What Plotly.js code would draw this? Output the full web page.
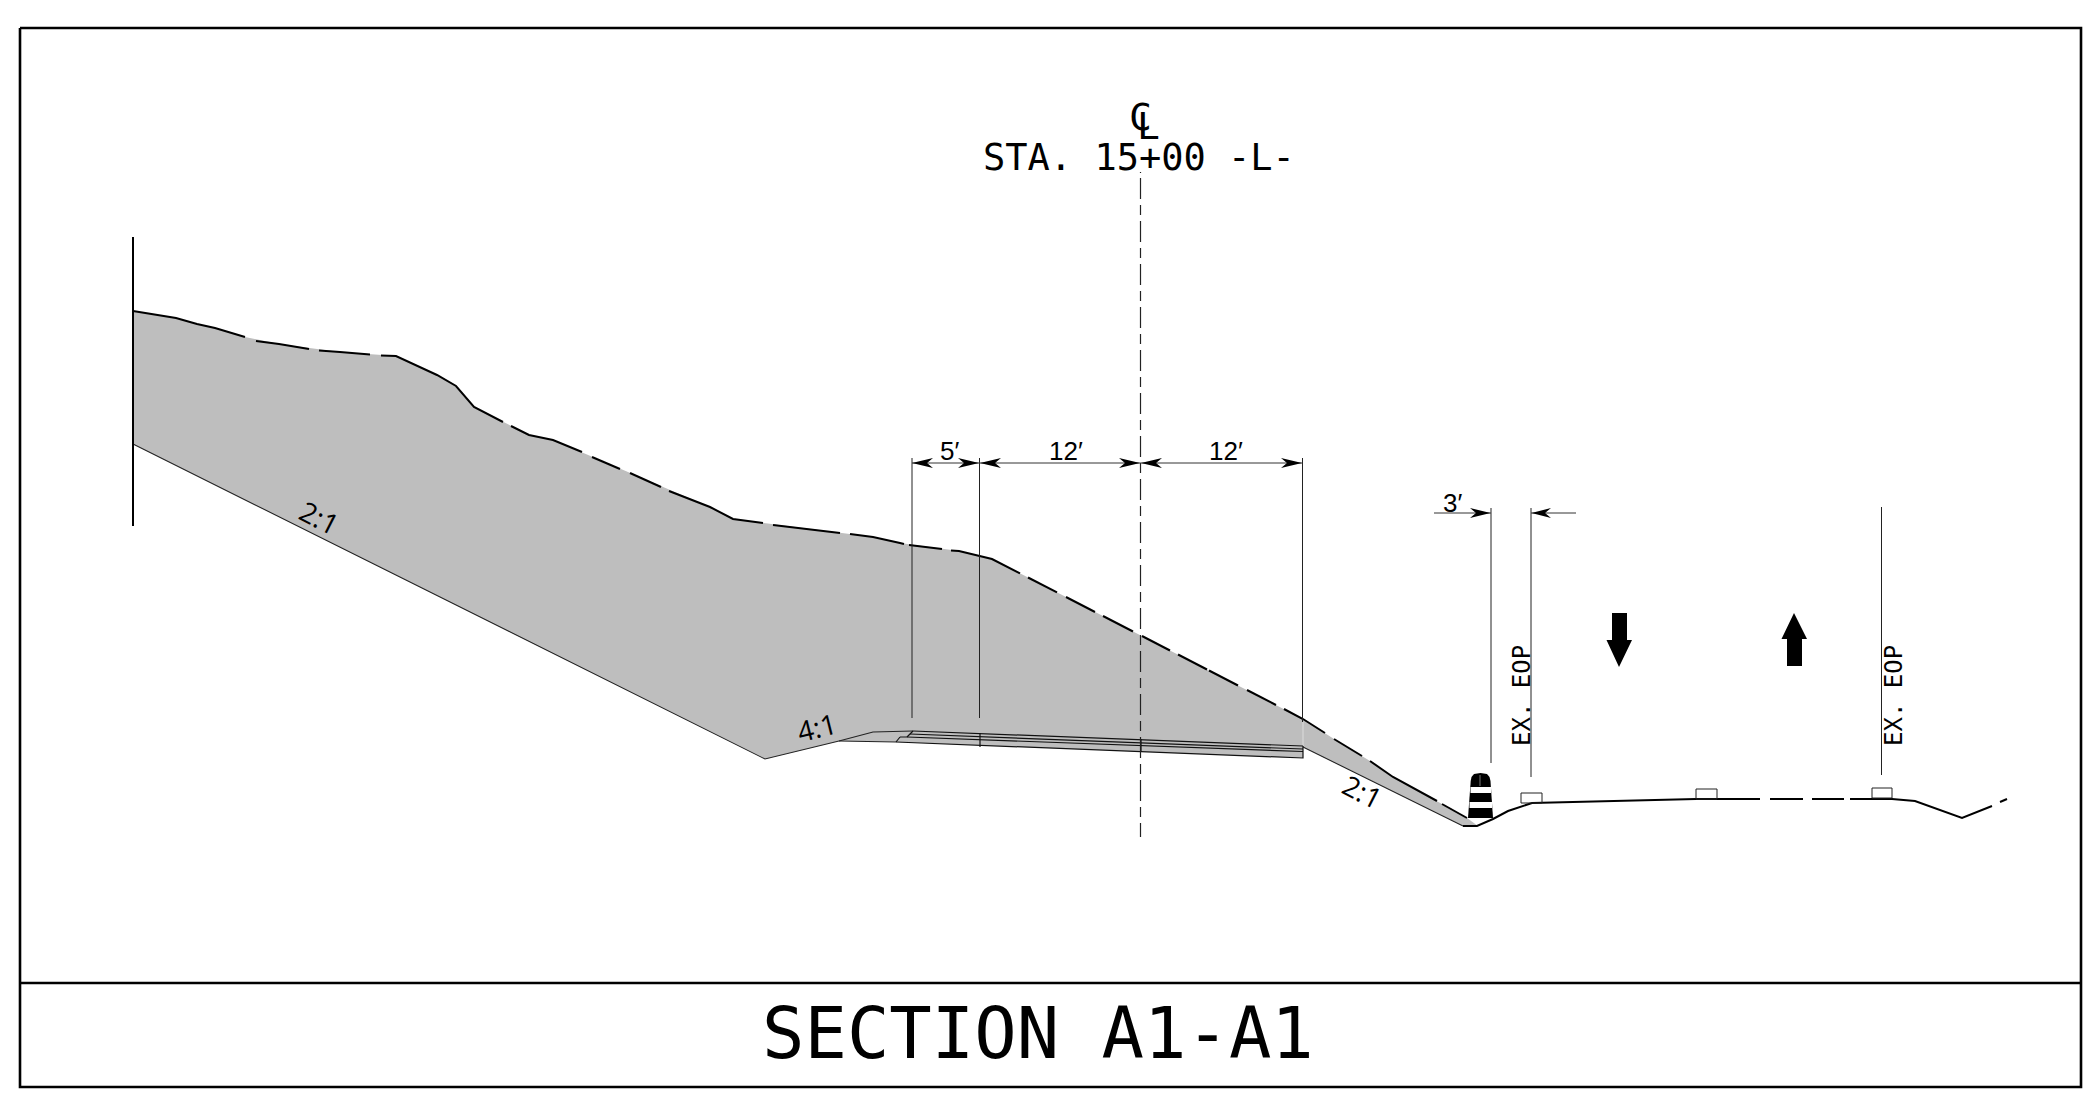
<!DOCTYPE html>
<html>
<head>
<meta charset="utf-8">
<script src="https://cdn.plot.ly/plotly-3.0.1.min.js"></script>
<style>html,body{margin:0;padding:0;background:#fff}#plot{width:2089px;height:1099px}</style>
</head>
<body>
<div id="plot"></div>
<script>
// Sheet extents (drawing units)
const sheetX = [0, 2089];
const sheetY = [1099, 0];

// Cut / fill area
const fillX = [133,176,197,215,245,279,340,396,437,456,474,529,553,710,733,873,900,959,992,1303,1334,1370,1393,1442,1467,1478,1463,1303,1303,896,839,765,133];
const fillY = [311,318,324,328,337,344,352,356,375,386,407,435,440,507,519,537,543,551,559,719,739,761,777,804,818,826,826,747,758,742,741,759,444];

// Existing ground line, broken where the drawing breaks it
const groundX = [133,176,197,215,245,null,256,279,309,null,319,340,370,null,381,396,437,456,474,503,null,511,529,553,582,null,592,620,null,630,661,null,669,710,733,763,null,773,840,null,850,873,900,904,null,909,942,null,951,959,992,1020,null,1028,1057,null,1066,1095,null,1103,1133,null,1142,1170,null,1178,1207,null,1209,1238,null,1247,1276,null,1284,1303,1325,null,1334,1362,null,1370,1393,1437,null,1442,1467];
const groundY = [311,318,324,328,337,null,341,344,349,null,350.5,352,354.5,null,355.5,356,375,386,407,422,null,426,435,440,452,null,457,469,null,473,487,null,491,507,519,523,null,525,533,null,534,537,543,544,null,545,549,null,550.5,551,559,573.4,null,577.5,592.4,null,597,612,null,616,631.5,null,636,650.5,null,654.5,669.5,null,670.5,685.5,null,690,705,null,709,719,733,null,739,756,null,761,777,801,null,804,818];

// Roadway surface on the right
const roadX = [1463,1477,1493,1508,1532,1696,1760,null,1770,1803,null,1812,1844,null,1850,1892,1915,1962,1992,null,2000,2007];
const roadY = [826,826,819,811,803,799,799,null,799,799,null,799,799,null,799,799,801,818,806,null,802,799];

// Thin slope lines
const slopeX = [133,765,839,873,913,null,839,896,null,1303,1463];
const slopeY = [444,759,741,732,731,null,741,742,null,747,826];

// Pavement layers
const paveX = [913,1303,null,910,1303,null,900,907,1303,null,896,1303,1303,null,913,907,null,900,896,null,980,980,null,1141,1141];
const paveY = [731,746,null,734,749,null,737,737,751.5,null,742,758,746,null,731,737,null,737,742,null,733,747,null,739,752];

// Pale edge of the fill at the pavement end
const edgeX = [1303,1303];
const edgeY = [722,746];

// Left limit line
const limitX = [133,133];
const limitY = [237,526];

// Centre line
const centerX = [1140.5,1140.5];
const centerY = [178,837];
const centerDotX = [1140.5,1140.5];
const centerDotY = [172,173];

// Extension and dimension lines
const extX = [912,912,null,979.5,979.5,null,1302.5,1302.5,null,1491,1491,null,1531,1531,null,1881.5,1881.5];
const extY = [458,718,null,458,718,null,458,722,null,508,763,null,508,777,null,507,775];
const dimX = [912,1302.5,null,1434,1491,null,1531,1576];
const dimY = [463,463,null,513,513,null,513,513];

// Dimension arrowheads
const headX = [912,933,927,933,912,null,979,958,964,958,979,null,980,1001,995,1001,980,null,1140,1119,1125,1119,1140,null,1141,1162,1156,1162,1141,null,1302,1281,1287,1281,1302,null,1490.5,1470,1476,1470,1490.5,null,1531.5,1551,1545,1551,1531.5];
const headY = [463,458,463,468,463,null,463,458,463,468,463,null,463,458,463,468,463,null,463,458,463,468,463,null,463,458,463,468,463,null,463,458,463,468,463,null,513,508,513,518,513,null,513,508,513,518,513];

// Traffic direction arrows
const trafficX = [1612,1627,1627,1632,1619,1606.5,1612,1612,null,1794,1807,1802,1802,1787,1787,1781.5,1794];
const trafficY = [613,613,640,640,667,640,640,613,null,613,639,639,666,666,639,639,613];

// Small survey boxes
const boxX = [1521,1542,1542,1521,1521,null,1696,1717,1717,1696,1696,null,1872,1892,1892,1872,1872];
const boxY = [793,793,803,803,793,null,789,789,799,799,789,null,788,788,798,798,788];

// Drum
const drumX = [1468,1470.7,1471.5,1474,1480.5,1487,1489.5,1490.5,1493,1468];
const drumY = [818,781,777,774,773,774,777,781,818,818];
const stripeX = [1470.5,1491,1491,1470.5,1470.5,null,1469.5,1492,1492,1469.5,1469.5];
const stripeY = [787,787,793,793,787,null,802,802,808,808,802];
const drumMarkX = [1480,1480];
const drumMarkY = [775,786];

// Sheet frame
const frameX = [20,2081,2081,20,20,null,20,2081];
const frameY = [28,28,1087,1087,28,null,983,983];

// Text labels
const labels = ['C','L','STA. 15+00 -L-','SECTION A1-A1','5′','12′','12′','3′','EX. EOP','EX. EOP','2:1','4:1','2:1'];
const labelX = [1140,1148,1139,1038,949.5,1066,1226,1452,1522,1894,319,816.5,1362];
const labelY = [117,126,157,1034,451,451,451,503,696,696,517,727,791];
const labelAngle = [0,0,0,0,0,0,0,0,-90,-90,27,-14,27];
const labelSize = [38,38,37,70.5,26,26,26,26,24,24,28,28,28];
const labelFont = ['m','m','m','m','s','s','s','s','m','m','o','o','o'];

const fonts = {m:'"DejaVu Sans Mono", monospace', s:'"Liberation Sans", sans-serif', o:'"Open Sans", sans-serif'};

function line(x,y,color,width,dash){
  return {type:'scatter',mode:'lines',x:x,y:y,hoverinfo:'skip',showlegend:false,connectgaps:false,
    line:{color:color,width:width,dash:dash||'solid',simplify:false}};
}
function area(x,y,color){
  return {type:'scatter',mode:'lines',x:x,y:y,fill:'toself',fillcolor:color,hoverinfo:'skip',showlegend:false,
    line:{color:color,width:0,simplify:false}};
}

const traces = [
  area(fillX,fillY,'#bebebe'),
  line(edgeX,edgeY,'#dcdcdc',1),
  line(slopeX,slopeY,'#222',1.1),
  line(paveX,paveY,'#111',1.2),
  line(groundX,groundY,'#000',2),
  line(roadX,roadY,'#000',2),
  line(limitX,limitY,'#000',2),
  line(centerX,centerY,'#222',1.2,'21px,6px,10px,6px'),
  line(centerDotX,centerDotY,'#222',1.2),
  line(extX,extY,'#222',1),
  line(dimX,dimY,'#333',1),
  area(headX,headY,'#000'),
  area(trafficX,trafficY,'#000'),
  line(boxX,boxY,'#222',1),
  area(drumX,drumY,'#000'),
  area(stripeX,stripeY,'#fff'),
  line(drumMarkX,drumMarkY,'#777',1),
  line(frameX,frameY,'#000',2.6)
];

const annotations = labels.map((t,i)=>({
  text:t,x:labelX[i],y:labelY[i],xref:'x',yref:'y',showarrow:false,
  xanchor:'center',yanchor:'middle',textangle:labelAngle[i],borderpad:0,
  font:{family:fonts[labelFont[i]],size:labelSize[i],color:'#000'}
}));

Plotly.newPlot('plot',traces,{
  width:2089,height:1099,
  margin:{l:0,r:0,t:0,b:0,pad:0},
  paper_bgcolor:'#fff',plot_bgcolor:'#fff',
  showlegend:false,
  xaxis:{range:sheetX,visible:false,fixedrange:true},
  yaxis:{range:sheetY,visible:false,fixedrange:true},
  annotations:annotations
},{staticPlot:true,displayModeBar:false});
</script>
</body>
</html>
